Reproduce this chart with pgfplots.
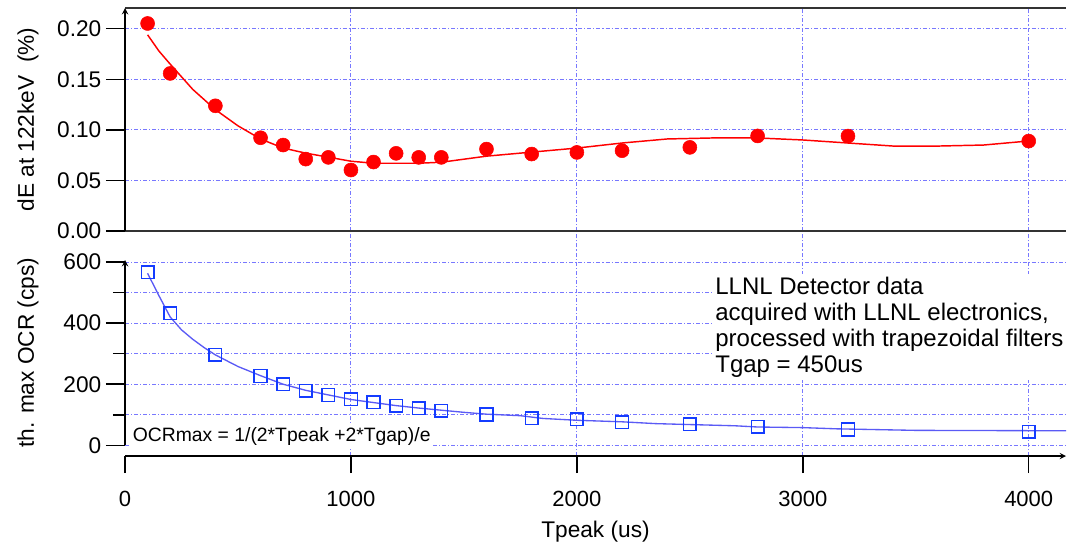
\documentclass[border=0pt]{standalone}
\usepackage{fontspec}
\setmainfont{Liberation Sans}
\usepackage{pgfplots}
\pgfplotsset{compat=1.18}

\definecolor{gridblue}{RGB}{120,120,255}
\definecolor{fitblue}{RGB}{90,90,245}
\definecolor{markblue}{RGB}{20,60,255}

\pgfplotsset{
  panel/.style={
    scale only axis, width=705.75pt,
    xmin=0, xmax=4165,
    axis line style={-, line width=1.1pt, black},
    tick style={line width=1.1pt, black},
    major tick length=14.25pt, minor tick length=9pt,
    grid style={gridblue, line width=0.7pt, dash pattern=on 3pt off 1.5pt on 0.8pt off 1.5pt},
    tick label style={font=\fontsize{17}{19}\selectfont},
    label style={font=\fontsize{17}{19}\selectfont},
    /pgf/number format/assume math mode=true,
    /pgf/number format/1000 sep={},
    clip=false,
  },
}

\begin{document}
\begin{tikzpicture}
\useasboundingbox (0,0) rectangle (800.25pt,408pt);

% shared x axis with vertical grid lines through the lower panel
\begin{axis}[panel,
  at={(93.75pt,66pt)}, anchor=south west, height=168.75pt,
  ymin=0, ymax=1,
  axis x line=bottom, axis y line=none,
  tick align=outside,
  xtick={1000,2000,3000,4000},
  extra x ticks={0}, extra x tick style={grid=none},
  xmajorgrids,
  major tick length=12.75pt,
  xticklabel style={font=\fontsize{16.5}{18}\selectfont, yshift=-10pt},
  xlabel={Tpeak (us)},
  xlabel style={at={(axis description cs:0.5,-0.335)}, anchor=center},
]
\end{axis}

% lower panel: theoretical max OCR
\begin{axis}[panel,
  at={(93.75pt,74pt)}, anchor=south west, height=139pt,
  ymin=0, ymax=606.5,
  axis x line=none, axis y line=left,
  tick align=outside,
  ytick={0,200,400,600}, minor ytick={100,300,500},
  ymajorgrids, yminorgrids,
  ylabel={th. max OCR (cps)},
  ylabel style={at={(axis description cs:-0.103,0.5)}, anchor=center},
]
\addplot[fitblue, line width=1pt] coordinates {
  (100,563) (150,490) (200,420) (250,378) (300,347) (350,320) (400,296)
  (500,258) (600,228) (700,200) (800,180) (900,165) (1000,150) (1100,140)
  (1200,130) (1300,122) (1400,115) (1500,108) (1600,102) (1750,97) (1850,88)
  (2000,82) (2200,77) (2350,71) (2500,68) (2700,64) (2800,60) (3000,58)
  (3150,54) (3500,49) (4000,48) (4165,48)
};
\addplot[only marks, mark=square, mark size=4.75pt, mark options={markblue, line width=1.1pt}] coordinates {
  (100,566) (200,432) (400,296) (600,227) (700,200) (800,179) (900,165)
  (1000,151) (1100,141) (1200,130) (1300,121) (1400,113) (1600,101)
  (1800,89) (2000,85) (2200,76) (2500,69) (2800,61) (3200,52) (4000,44)
};
\node[anchor=west, fill=white, inner sep=1.5pt, font=\fontsize{14.5}{16}\selectfont]
  at (axis cs:25,30) {OCRmax = 1/(2*Tpeak +2*Tgap)/e};
\node[anchor=north west, fill=white, inner sep=2pt, align=left,
  font=\fontsize{18}{19.5}\selectfont]
  at (axis cs:2600,561) {LLNL Detector data\\acquired with LLNL electronics,\\processed with trapezoidal filters\\Tgap = 450us};
\end{axis}

% upper panel: energy resolution
\begin{axis}[panel,
  at={(93.75pt,234.75pt)}, anchor=south west, height=167.25pt,
  ymin=0, ymax=0.2205,
  axis x line=box, axis y line=left,
  tick align=outside,
  xtick={1000,2000,3000,4000}, xticklabels={},
  x tick style={draw=none}, xmajorgrids,
  x axis line style={line width=1.4pt, black!80},
  ytick={0,0.05,0.10,0.15,0.20},
  yticklabel style={/pgf/number format/.cd, fixed, fixed zerofill, precision=2},
  ymajorgrids,
  ylabel={dE at 122keV\ \ (\%)},
  ylabel style={at={(axis description cs:-0.103,0.5)}, anchor=center},
]
\addplot[red, line width=1.1pt] coordinates {
  (100,0.194) (150,0.178) (200,0.165) (300,0.140) (400,0.120) (500,0.104)
  (600,0.091) (700,0.082) (800,0.077) (900,0.073) (1000,0.069) (1100,0.067)
  (1200,0.067) (1300,0.067) (1400,0.068) (1500,0.071) (1600,0.074) (1800,0.078)
  (2000,0.082) (2200,0.087) (2400,0.091) (2600,0.092) (2800,0.092) (3000,0.090)
  (3200,0.087) (3400,0.084) (3600,0.084) (3800,0.085) (3900,0.087) (4000,0.089)
};
\addplot[only marks, mark=*, mark size=5.25pt, red, mark options={draw=red, fill=red}] coordinates {
  (100,0.2052) (200,0.1558) (400,0.1238) (600,0.0922) (700,0.0850) (800,0.0711)
  (900,0.0728) (1000,0.0603) (1100,0.0682) (1200,0.0768) (1300,0.0728)
  (1400,0.0728) (1600,0.0810) (1800,0.0761) (2000,0.0777) (2200,0.0794)
  (2500,0.0827) (2800,0.0940) (3200,0.0939) (4000,0.0889)
};
\end{axis}
\end{tikzpicture}
\end{document}
